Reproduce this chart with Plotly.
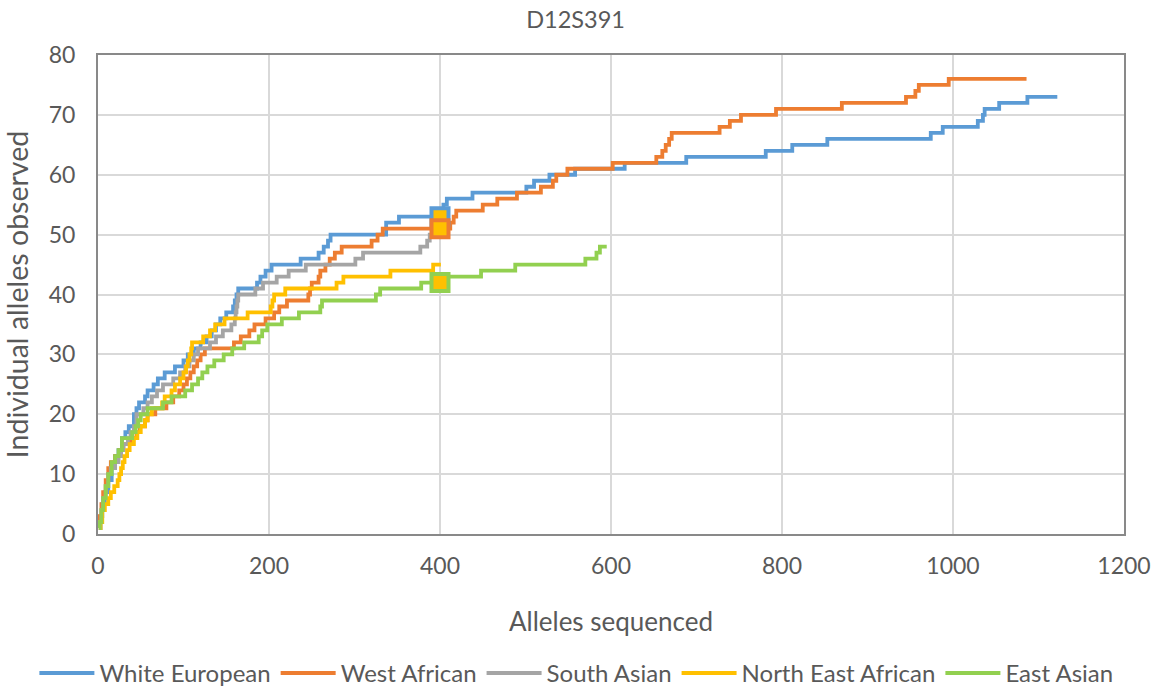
import plotly.graph_objects as go

# ---- data (step points: x = alleles sequenced, y = alleles observed) ----
we_x = [1, 3, 5, 8, 12, 16, 20, 24, 28, 32, 36, 42, 45, 48, 55, 58, 65, 70, 78, 90, 100, 105, 112, 120,
        127, 133, 138, 143, 150, 158, 160, 162, 164, 186, 190, 196, 203, 237, 258, 264, 269, 272, 337,
        352, 401, 404, 408, 438, 501, 510, 528, 558, 616, 688, 781, 812, 853, 974, 988, 1029, 1035, 1037,
        1054, 1087, 1122]
we_y = [1, 3, 5, 7, 9, 11, 13, 14, 16, 17, 18, 20, 21, 22, 23, 24, 25, 26, 27, 28, 29, 30, 31, 32,
        33, 34, 35, 36, 37, 38, 39, 40, 41, 42, 43, 44, 45, 46, 47, 48, 49, 50, 52,
        53, 54, 55, 56, 57, 58, 59, 60, 61, 62, 63, 64, 65, 66, 67, 68, 69, 70, 71,
        72, 73, 73]

wa_x = [1, 2, 4, 6, 9, 12, 15, 20, 25, 29, 38, 45, 49, 55, 58, 67, 80, 88, 95, 100, 104, 108, 112, 116,
        120, 125, 159, 167, 177, 183, 196, 206, 212, 221, 246, 248, 250, 258, 260, 266, 271, 277, 285,
        320, 327, 333, 412, 416, 419, 450, 467, 490, 518, 532, 536, 549, 602, 653, 660, 664, 668, 671,
        727, 739, 752, 793, 870, 945, 956, 960, 995, 1086]
wa_y = [1, 3, 5, 7, 9, 11, 12, 13, 14, 15, 16, 17, 18, 19, 20, 21, 22, 23, 24, 25, 26, 27, 28, 29,
        30, 31, 32, 33, 34, 35, 36, 37, 38, 39, 40, 41, 42, 43, 44, 45, 46, 47, 48,
        49, 50, 51, 52, 53, 54, 55, 56, 57, 58, 59, 60, 61, 62, 63, 64, 65, 66, 67,
        68, 69, 70, 71, 72, 73, 74, 75, 76, 76]

sa_x = [1, 2, 4, 6, 9, 12, 15, 20, 24, 27, 30, 35, 38, 42, 45, 53, 58, 63, 69, 76, 88, 96, 102, 107,
        112, 117, 131, 138, 146, 156, 160, 161, 162, 163, 164, 184, 193, 209, 223, 243, 301, 310, 377,
        385, 388, 400]
sa_y = [1, 2, 4, 6, 8, 10, 11, 12, 13, 14, 15, 16, 17, 18, 20, 21, 22, 23, 24, 25, 26, 27, 28, 29,
        30, 31, 32, 33, 34, 35, 36, 37, 38, 39, 40, 41, 42, 43, 44, 45, 46, 47, 48,
        49, 50, 50]

nea_x = [1, 3, 5, 8, 12, 15, 19, 23, 25, 27, 29, 31, 34, 37, 42, 46, 50, 55, 58, 63, 75, 78, 86, 90,
         96, 100, 103, 105, 107, 109, 110, 123, 131, 137, 148, 175, 202, 204, 206, 219, 279, 287, 342,
         392, 401]
nea_y = [1, 2, 4, 5, 6, 7, 8, 9, 10, 11, 12, 13, 14, 15, 16, 17, 18, 19, 20, 21, 22, 23, 24, 25,
         26, 27, 28, 29, 30, 31, 32, 33, 34, 35, 36, 37, 38, 39, 40, 41, 42, 43, 44,
         45, 45]

ea_x = [1, 2, 4, 6, 9, 12, 16, 20, 24, 28, 40, 44, 47, 50, 58, 76, 86, 102, 110, 117, 122, 128, 136,
        147, 157, 171, 188, 192, 198, 215, 235, 260, 262, 325, 330, 378, 405, 448, 488, 570, 583, 587, 595]
ea_y = [1, 2, 4, 6, 8, 10, 12, 13, 14, 16, 17, 18, 19, 20, 21, 22, 23, 24, 25, 26, 27, 28, 29,
        30, 31, 32, 33, 34, 35, 36, 37, 38, 39, 40, 41, 42, 43, 44, 45, 46, 47, 48, 48]

series_names = ["White European", "West African", "South Asian", "North East African", "East Asian"]
series_x = [we_x, wa_x, sa_x, nea_x, ea_x]
series_y = [we_y, wa_y, sa_y, nea_y, ea_y]
colors = ["#5B9BD5", "#ED7D31", "#A5A5A5", "#FFC000", "#92D050"]
marked = [True, True, False, False, True]   # series with a marker at 400 alleles
mark_at = 400

title_text = "D12S391"
x_title = "Alleles sequenced"
y_title = "Individual alleles observed"

FONT = "Lato"
TXT = "#595959"

fig = go.Figure()
for name, xs, ys, c in zip(series_names, series_x, series_y, colors):
    fig.add_trace(go.Scatter(x=xs, y=ys, mode="lines", name=name, line=dict(color=c, width=3.8, shape="hv")))


def value_at(xs, ys, xv):
    v = ys[0]
    for a, b in zip(xs, ys):
        if a <= xv:
            v = b
    return v


for name, xs, ys, c, m in zip(series_names, series_x, series_y, colors, marked):
    if m:
        fig.add_trace(go.Scatter(x=[mark_at], y=[value_at(xs, ys, mark_at)], mode="markers", showlegend=False,
                                 marker=dict(symbol="square", size=17, color="#FFC000", line=dict(color=c, width=4))))

fig.update_layout(
    width=1158, height=688,
    paper_bgcolor="white", plot_bgcolor="white",
    margin=dict(l=98, r=34, t=55, b=154, autoexpand=False),
    font=dict(family=FONT, size=20, color=TXT),
    title=dict(text=title_text, xref="container", x=0.497, xanchor="center", y=0.971, yanchor="middle",
               font=dict(family=FONT, size=23.5, color=TXT)),
    showlegend=True,
    legend=dict(orientation="h", x=-0.062, xanchor="left", y=-0.291, yanchor="middle",
                font=dict(family=FONT, size=24, color=TXT), itemwidth=55, tracegroupgap=0),
)
fig.update_xaxes(range=[0, 1200], dtick=200, tick0=0, showgrid=True, gridcolor="#D9D9D9", gridwidth=2,
                 showline=True, linecolor="#898989", linewidth=2, mirror=True, zeroline=False,
                 ticks="", ticklabelstandoff=10, automargin=False,
                 tickfont=dict(family=FONT, size=23, color=TXT),
                 title=dict(text=x_title, standoff=35, font=dict(family=FONT, size=26, color=TXT)))
fig.update_yaxes(range=[0, 80], dtick=10, tick0=0, showgrid=True, gridcolor="#D9D9D9", gridwidth=2,
                 showline=True, linecolor="#898989", linewidth=2, mirror=True, zeroline=False,
                 ticks="", ticklabelstandoff=16, automargin=False,
                 tickfont=dict(family=FONT, size=23, color=TXT),
                 title=dict(text=y_title, standoff=14, font=dict(family=FONT, size=28.5, color=TXT)))

fig.write_html("out.html", post_script="document.body.style.margin='0px';",
               config={"displayModeBar": False})
